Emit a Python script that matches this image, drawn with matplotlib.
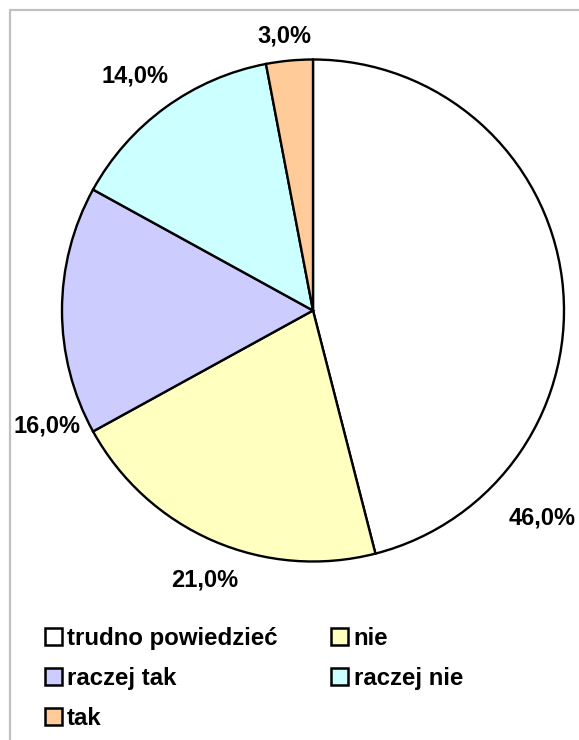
import matplotlib
matplotlib.use("Agg")
import matplotlib.pyplot as plt
from matplotlib.patches import Rectangle

plt.rcParams['font.family'] = ['Liberation Sans', 'DejaVu Sans']

# dane
kategorie = ['trudno powiedzieć', 'nie', 'raczej tak', 'raczej nie', 'tak']
wartosci = [46.0, 21.0, 16.0, 14.0, 3.0]
kolory = ['#FFFFFF', '#FFFFC0', '#CCCCFF', '#CCFFFF', '#FFCC99']

# polozenie etykiet (piksele obrazka: srodek x, linia bazowa y)
etykiety_xy = [(542, 525), (205, 587), (47, 433), (135, 83), (284, 43)]

W, H = 579, 740
fig = plt.figure(figsize=(W / 100, H / 100), dpi=100)

# ramka wykresu
fig.patches.append(Rectangle((10 / W, -0.1), 1.2, 1 - 10 / H + 0.1,
                             transform=fig.transFigure, fill=False,
                             edgecolor='#C0C0C0', linewidth=1.6))

# kolo
cx, cy, r = 313, 310.5, 251
ax = fig.add_axes([(cx - r) / W, 1 - (cy + r) / H, 2 * r / W, 2 * r / H])
ax.pie(wartosci, colors=kolory, startangle=90, counterclock=False,
       wedgeprops=dict(edgecolor='black', linewidth=1.7), radius=1)
ax.set_xlim(-1, 1)
ax.set_ylim(-1, 1)
ax.set_aspect('auto')
ax.axis('off')

for v, (x, y) in zip(wartosci, etykiety_xy):
    fig.text(x / W, 1 - y / H, f'{v:.1f}%'.replace('.', ','),
             ha='center', va='baseline', fontsize=17, fontweight='bold')

# legenda
for i, (k, c) in enumerate(zip(kategorie, kolory)):
    col, row = i % 2, i // 2
    mx = 53 + col * 286.7
    my = 636 + row * 40
    s = 17
    fig.patches.append(Rectangle(((mx - s / 2) / W, 1 - (my + s / 2) / H), s / W, s / H,
                                 transform=fig.transFigure, facecolor=c,
                                 edgecolor='black', linewidth=1.8))
    fig.text((mx + 14) / W, 1 - (my + 9) / H, k, ha='left', va='baseline',
             fontsize=17.3, fontweight='bold')

fig.savefig('out.png', dpi=100)
